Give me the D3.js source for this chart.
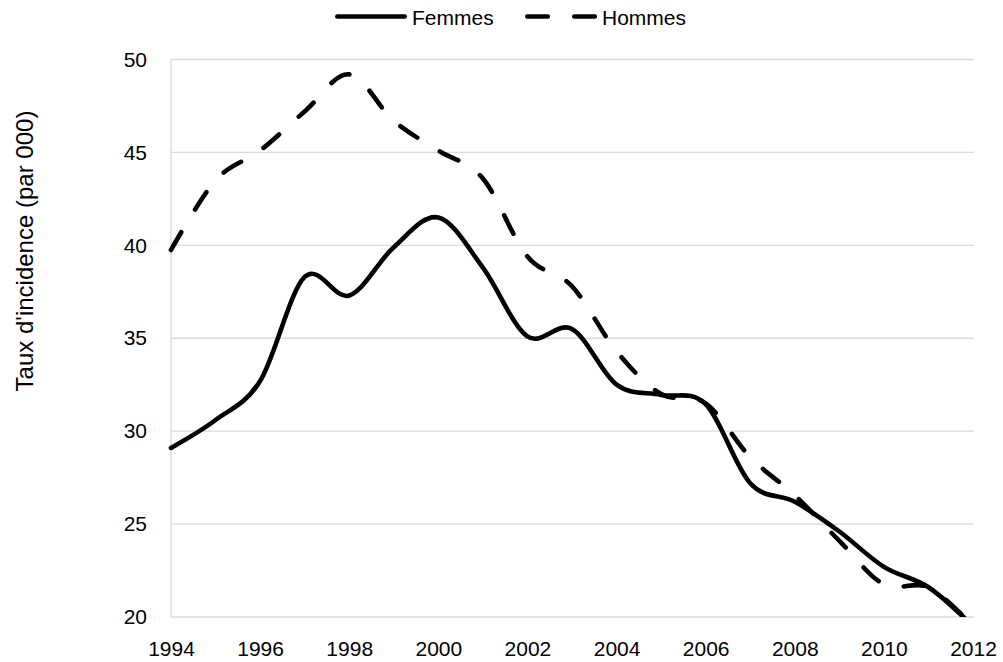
<!DOCTYPE html>
<html>
<head>
<meta charset="utf-8">
<script src="https://cdn.jsdelivr.net/npm/d3@7"></script>
<style>
  html, body { margin: 0; padding: 0; background: #fff; }
  svg { display: block; }
  text { font-family: "Liberation Sans", Arial, sans-serif; fill: #000; }
</style>
</head>
<body>
<svg id="chart" width="1003" height="662"></svg>
<script>
const years = [1994,1995,1996,1997,1998,1999,2000,2001,2002,2003,2004,2005,2006,2007,2008,2009,2010,2011,2012];
const femmes = [29.1,30.6,32.7,38.3,37.3,39.9,41.5,38.8,35.1,35.5,32.5,31.95,31.45,27.2,26.2,24.6,22.7,21.6,19.5];
const hommes = [39.75,43.5,45.1,47.2,49.2,46.7,45.1,43.6,39.4,37.8,34.3,32.0,31.5,28.6,26.55,24.1,21.75,21.6,19.5];
const xTicks = [1994,1996,1998,2000,2002,2004,2006,2008,2010,2012];
const yTicks = [20,25,30,35,40,45,50];
const seriesNames = ["Femmes","Hommes"];
const yTitle = "Taux d'incidence (par 000)";

const svg = d3.select("#chart");
const x = d3.scaleLinear().domain([1994, 2012]).range([171, 973]);
const y = d3.scaleLinear().domain([20, 50]).range([617, 59.5]);

const DASH = "20.5 26.5";
const LW = 4.6;

// gridlines
svg.append("g").selectAll("line").data(yTicks).join("line")
  .attr("x1", x(1994)).attr("x2", x(2012) + 1)
  .attr("y1", d => y(d)).attr("y2", d => y(d))
  .attr("stroke", "#d9d9d9").attr("stroke-width", 1.3);
// left axis line
svg.append("line").attr("x1", x(1994)).attr("x2", x(1994))
  .attr("y1", y(50)).attr("y2", y(20))
  .attr("stroke", "#d9d9d9").attr("stroke-width", 1.3);

// axes labels via d3 axes
const yAxis = svg.append("g").attr("transform", `translate(${x(1994)},0)`)
  .call(d3.axisLeft(y).tickValues(yTicks).tickSize(0).tickPadding(24).tickFormat(d3.format("d")));
yAxis.select(".domain").remove();
yAxis.selectAll("text").style("font-size", "21px").style("font-family", '"Liberation Sans", Arial, sans-serif');

const xAxis = svg.append("g").attr("transform", `translate(0,${y(20)})`)
  .call(d3.axisBottom(x).tickValues(xTicks).tickSize(0).tickPadding(24).tickFormat(d3.format("d")));
xAxis.select(".domain").remove();
xAxis.selectAll("text").style("font-size", "21px").style("font-family", '"Liberation Sans", Arial, sans-serif');

// clip at plot bottom
svg.append("clipPath").attr("id", "clip").append("rect")
  .attr("x", 0).attr("y", 0).attr("width", 1003).attr("height", y(20));

const line = d3.line().x((d, i) => x(years[i])).y(d => y(d)).curve(d3.curveCardinal.tension(0));

const g = svg.append("g").attr("clip-path", "url(#clip)");
g.append("path").datum(hommes).attr("d", line)
  .attr("fill", "none").attr("stroke", "#000").attr("stroke-width", LW)
  .attr("stroke-linecap", "round").attr("stroke-linejoin", "round")
  .attr("stroke-dasharray", DASH);
g.append("path").datum(femmes).attr("d", line)
  .attr("fill", "none").attr("stroke", "#000").attr("stroke-width", LW)
  .attr("stroke-linecap", "round").attr("stroke-linejoin", "round");

// legend
const leg = svg.append("g");
leg.append("line").attr("x1", 337.3).attr("x2", 404.7).attr("y1", 16.5).attr("y2", 16.5)
  .attr("stroke", "#000").attr("stroke-width", LW).attr("stroke-linecap", "round");
leg.append("text").attr("x", 412).attr("y", 24.5).style("font-size", "21px").text(seriesNames[0]);
leg.append("line").attr("x1", 527.3).attr("x2", 595.7).attr("y1", 16.5).attr("y2", 16.5)
  .attr("stroke", "#000").attr("stroke-width", LW).attr("stroke-linecap", "round")
  .attr("stroke-dasharray", DASH);
leg.append("text").attr("x", 602).attr("y", 24.5).style("font-size", "21px").text(seriesNames[1]);

// y title
svg.append("text")
  .attr("transform", "translate(33,251) rotate(-90)")
  .attr("text-anchor", "middle")
  .style("font-size", "24px")
  .text(yTitle);
</script>
</body>
</html>
